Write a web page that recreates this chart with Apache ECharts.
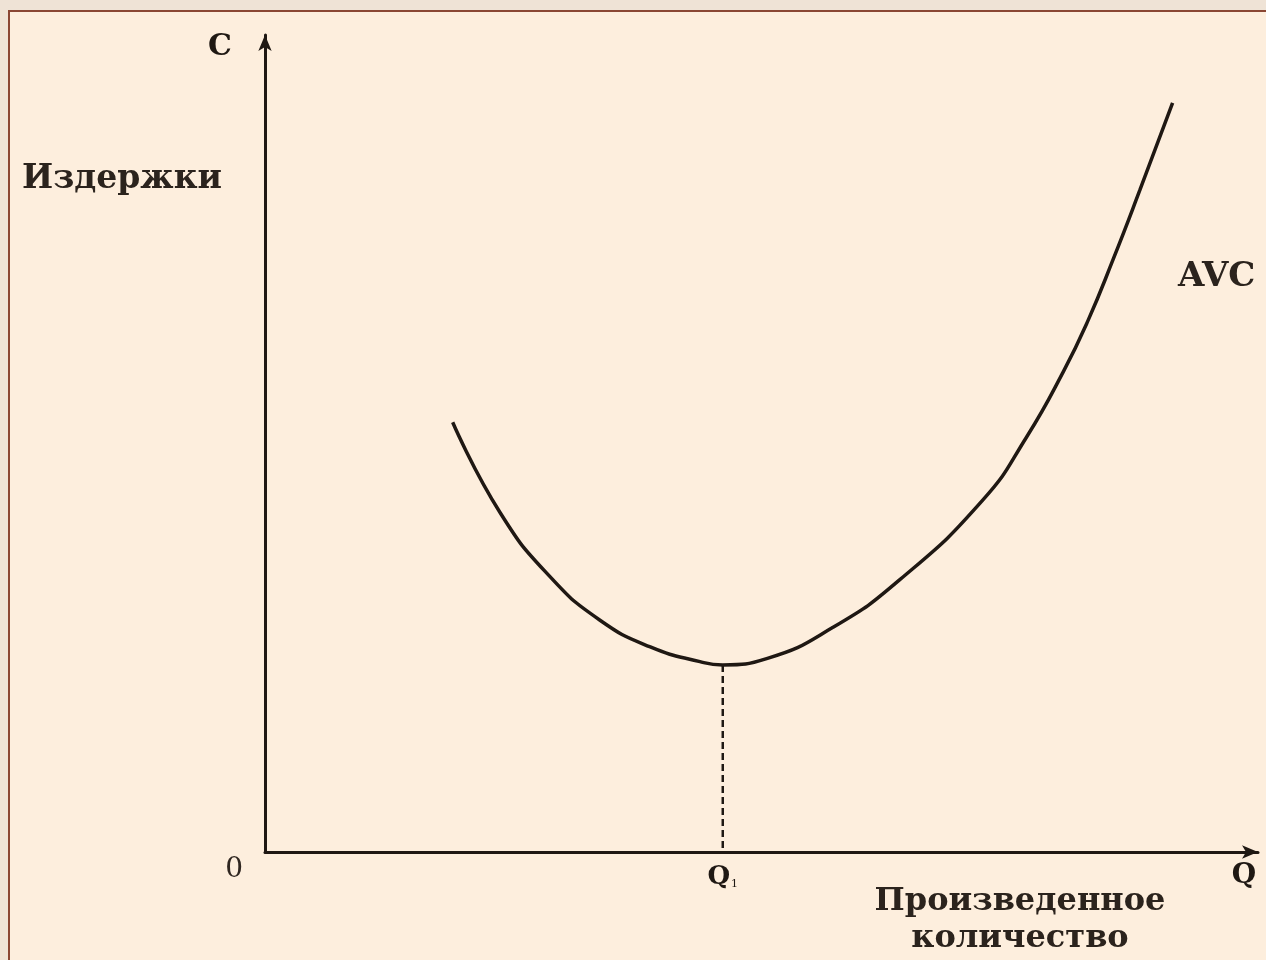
<!DOCTYPE html>
<html>
<head>
<meta charset="utf-8">
<script src="https://cdn.jsdelivr.net/npm/echarts@6/dist/echarts.min.js"></script>
<style>
html,body{margin:0;padding:0;background:#efe3d6;}
#chart{width:1266px;height:960px;}
</style>
</head>
<body>
<div id="chart"></div>
<script>
// Quantity (Q) and average variable cost (AVC)
const qValues   = [18.9, 23.7, 28.7, 33.7, 38.8, 43.8, 46.1, 50.6, 57.2, 63.9, 72.3, 76.7, 80.4, 82.9, 85.4, 88.1, 91.4];
const avcValues = [52.6, 41.5, 33.7, 28.4, 25.1, 23.3, 22.9, 23.7, 27.5, 33.3, 43.1, 50.8, 58.8, 65.1, 72.5, 81.0, 91.7];
const q1 = 46.1;
const avcMin = 22.9;
const xTickValues = [q1];
const yTickValues = [0];
const xTickLabels = ['{q|Q}{s|1}'];
const yTickLabels = ['0'];
const yAxisName = 'C';
const xAxisName = 'Q';
const yAxisTitle = 'Издержки';
const xAxisTitle = 'Произведенное\nколичество';
const curveName = 'AVC';

const ink = '#1f1813';
const serif = '"DejaVu Serif", "Liberation Serif", serif';

const chart = echarts.init(document.getElementById('chart'));
chart.setOption({
  backgroundColor: '#efe3d6',
  animation: false,
  grid: {left: 265, top: 35, right: 8, bottom: 108, outerBoundsMode: 'none', containLabel: false},
  xAxis: {
    type: 'value', min: 0, max: 100,
    axisLine: {show: true, lineStyle: {color: ink, width: 3}, symbol: ['none', 'arrow'], symbolSize: [10, 16]},
    axisTick: {show: false},
    splitLine: {show: false},
    axisLabel: {
      customValues: xTickValues,
      margin: 12,
      formatter: (v) => xTickLabels[xTickValues.indexOf(v)] || '',
      rich: {
        q: {fontFamily: serif, fontWeight: 'bold', fontSize: 26, color: ink},
        s: {fontFamily: serif, fontSize: 11, color: ink, verticalAlign: 'bottom', padding: [14, 0, 0, 1]}
      }
    }
  },
  yAxis: {
    type: 'value', min: 0, max: 100,
    axisLine: {show: true, lineStyle: {color: ink, width: 3}, symbol: ['none', 'arrow'], symbolSize: [10, 16]},
    axisTick: {show: false},
    splitLine: {show: false},
    axisLabel: {
      customValues: yTickValues,
      margin: 22,
      verticalAlign: 'top',
      padding: [4, 0, 0, 0],
      formatter: (v) => yTickLabels[yTickValues.indexOf(v)] || '',
      fontFamily: serif, fontSize: 28, color: '#2f2620'
    }
  },
  graphic: [
    {type: 'rect', z: -100, silent: true, shape: {x: 9, y: 11, width: 1300, height: 1000},
     style: {fill: '#fdeedd', stroke: '#8a4633', lineWidth: 2}},
    {type: 'text', x: 220, y: 47, style: {text: yAxisName, font: 'bold 30px ' + serif, fill: ink, textAlign: 'center', textVerticalAlign: 'middle'}},
    {type: 'text', x: 22, y: 179, style: {text: yAxisTitle, font: 'bold 33px ' + serif, fill: '#2b231d', textAlign: 'left', textVerticalAlign: 'middle'}},
    {type: 'text', x: 1244, y: 876, style: {text: xAxisName, font: 'bold 28px ' + serif, fill: ink, textAlign: 'center', textVerticalAlign: 'middle'}},
    {type: 'text', x: 1020, y: 920, style: {text: xAxisTitle, font: 'bold 32px ' + serif, fill: '#2b231d', textAlign: 'center', textVerticalAlign: 'middle', lineHeight: 37}},
    {type: 'text', x: 1178, y: 277, style: {text: curveName, font: 'bold 34px ' + serif, fill: '#2b231d', textAlign: 'left', textVerticalAlign: 'middle'}}
  ],
  series: [
    {
      type: 'line', name: curveName,
      data: qValues.map((q, i) => [q, avcValues[i]]),
      smooth: true, symbol: 'none',
      lineStyle: {color: ink, width: 3.5}
    },
    {
      type: 'line', name: 'Q1',
      data: [[q1, avcMin], [q1, 0]],
      symbol: 'none',
      lineStyle: {color: ink, width: 2.5, type: [7, 4]}
    }
  ]
});
</script>
</body>
</html>
